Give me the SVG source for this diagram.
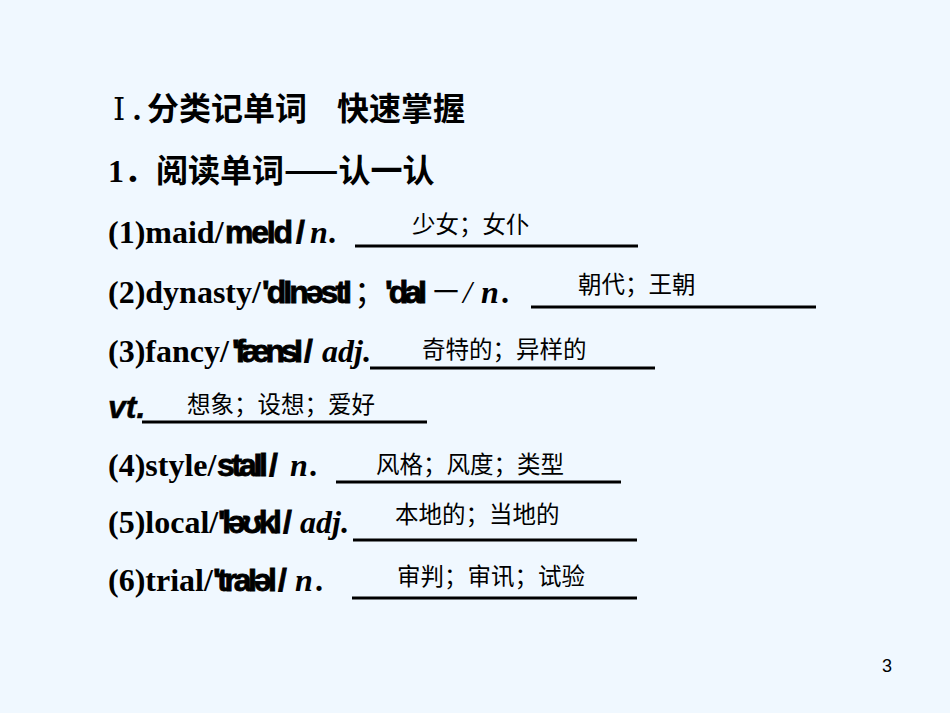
<svg xmlns="http://www.w3.org/2000/svg" width="950" height="713" viewBox="0 0 950 713">
<style>
.cjkb{font-family:"Noto Sans CJK SC",sans-serif;font-weight:bold;font-size:32px;fill:#000}
.cjk{font-family:"Noto Sans CJK SC",sans-serif;font-size:32px;fill:#000}
.en{font-family:"Liberation Serif",serif;font-weight:bold;font-size:32px;fill:#000}
.it{font-family:"Liberation Serif",serif;font-weight:bold;font-style:italic;font-size:32px;fill:#000}
.sl{font-family:"Liberation Serif",serif;font-style:italic;font-size:32px;fill:#000}
.ph{font-family:"Liberation Sans",sans-serif;font-weight:bold;font-size:32px;fill:#000;stroke:#000;stroke-width:0.8}
.vt{font-family:"Liberation Sans",sans-serif;font-weight:bold;font-style:italic;font-size:32px;fill:#000;stroke:#000;stroke-width:0.5}
.ans{font-family:"Noto Sans CJK SC",sans-serif;font-size:23.5px;fill:#000}
.ul{stroke:#000;stroke-width:3}
</style>
<rect width="950" height="713" fill="#F0F8FF"/>
<g id="title">
<text x="113" y="120" font-family="DejaVu Serif,Noto Sans CJK SC,serif" font-size="31" fill="#000">Ⅰ</text>
<text x="133" y="120" class="en">.</text>
<text x="147" y="120" class="cjkb">分类记单词</text>
<text x="337" y="120" class="cjkb">快速掌握</text>
</g>
<g id="subtitle">
<text x="108" y="182" class="en">1</text>
<text x="124" y="182" class="cjkb">．阅读单词——认一认</text>
</g>
<g id="item1">
<text x="108" y="243" class="en">(1)maid/</text>
<text x="225" y="243" class="ph" textLength="68" lengthAdjust="spacing">meId</text>
<text x="296" y="243" class="ph">/</text>
<text x="310" y="243" class="it">n</text>
<text x="328" y="243" class="en">.</text>
<text x="412" y="233" class="ans">少女；女仆</text>
</g>
<g id="item2">
<text x="108" y="303" class="en">(2)dynasty/</text>
<text x="262" y="303" class="ph" textLength="90" lengthAdjust="spacing">'dInəstI</text>
<text x="354" y="303" class="cjk">；</text>
<text x="385" y="303" class="ph" textLength="42" lengthAdjust="spacing">'daI</text>
<text x="430" y="303" class="cjk">－</text>
<text x="463" y="303" class="sl">/</text>
<text x="481" y="303" class="it">n</text>
<text x="501" y="303" class="en">.</text>
<text x="578" y="293" class="ans">朝代；王朝</text>
</g>
<g id="item3">
<text x="108" y="362" class="en">(3)fancy/</text>
<text x="232" y="362" class="ph" textLength="71" lengthAdjust="spacing">'fænsI</text>
<text x="304" y="362" class="ph">/</text>
<text x="322" y="362" class="it">adj</text>
<text x="362" y="362" class="en">.</text>
<text x="422" y="358" class="ans">奇特的；异样的</text>
</g>
<g id="item3vt">
<text x="108" y="418" class="vt">vt.</text>
<text x="187" y="413" class="ans">想象；设想；爱好</text>
</g>
<g id="item4">
<text x="108" y="476" class="en">(4)style/</text>
<text x="217" y="476" class="ph" textLength="51" lengthAdjust="spacing">staIl</text>
<text x="269" y="476" class="ph">/</text>
<text x="290" y="476" class="it">n</text>
<text x="309" y="476" class="en">.</text>
<text x="376" y="473" class="ans">风格；风度；类型</text>
</g>
<g id="item5">
<text x="108" y="533" class="en">(5)local/</text>
<text x="218" y="533" class="ph" textLength="64" lengthAdjust="spacing">'ləʊkl</text>
<text x="283" y="533" class="ph">/</text>
<text x="300" y="533" class="it">adj</text>
<text x="340" y="533" class="en">.</text>
<text x="395" y="523" class="ans">本地的；当地的</text>
</g>
<g id="item6">
<text x="108" y="591" class="en">(6)trial/</text>
<text x="213" y="591" class="ph" textLength="64" lengthAdjust="spacing">'traIəl</text>
<text x="278" y="591" class="ph">/</text>
<text x="295" y="591" class="it">n</text>
<text x="315" y="591" class="en">.</text>
<text x="397" y="585" class="ans">审判；审讯；试验</text>
</g>
<g id="connectors">
<line class="ul" x1="355" y1="246" x2="638" y2="246"/>
<line class="ul" x1="531" y1="307" x2="816" y2="307"/>
<line class="ul" x1="370" y1="368" x2="655" y2="368"/>
<line class="ul" x1="142" y1="422" x2="427" y2="422"/>
<line class="ul" x1="336" y1="482" x2="621" y2="482"/>
<line class="ul" x1="353" y1="540" x2="637" y2="540"/>
<line class="ul" x1="352" y1="598" x2="637" y2="598"/>
</g>
<g id="page-number">
<text x="882" y="672" font-family="Liberation Sans,sans-serif" font-size="18" fill="#000">3</text>
</g>
</svg>
